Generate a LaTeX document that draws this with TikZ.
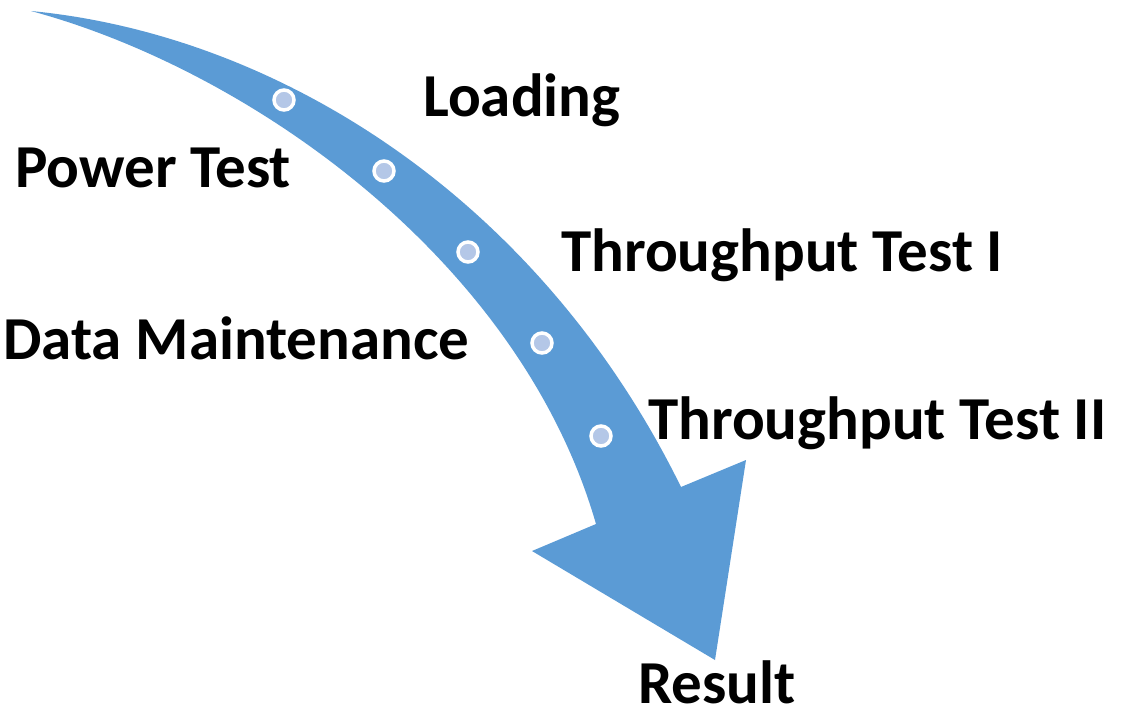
\documentclass[tikz,border=0pt]{standalone}
\usepackage{fontspec}
\setmainfont{Carlito}
\definecolor{arrowblue}{HTML}{5B9BD5}
\definecolor{dotblue}{HTML}{B4C7E7}
\begin{document}
\begin{tikzpicture}[x=1pt,y=-1pt,
  lbl/.style={anchor=base west,inner sep=0pt,font=\fontsize{61}{72}\selectfont\bfseries},
  stepdot/.style={circle,fill=dotblue,draw=white,line width=3.5pt,minimum size=20pt,inner sep=0pt}]
\useasboundingbox (0,0) rectangle (1138,710);
\fill[arrowblue] (31,11) .. controls (250,70) and (520,260) .. (596,524)
  -- (532,551) -- (715,660) -- (746,460) -- (681,487)
  .. controls (540,200) and (280,35) .. (31,11) -- cycle;
\node[stepdot] (d1) at (284,100) {};
\node[stepdot] (d2) at (384,171) {};
\node[stepdot] (d3) at (468,252) {};
\node[stepdot] (d4) at (542,343) {};
\node[stepdot] (d5) at (601,436) {};
\node[lbl] (loading) at (423,116) {Loading};
\node[lbl] (power) at (15,187) {Power Test};
\node[lbl] (tp1) at (561,271) {Throughput Test I};
\node[lbl] (dm) at (3,359) {Data Maintenance};
\node[lbl] (tp2) at (648,439) {Throughput Test II};
\node[lbl,text depth=0pt] (result) at (638,703) {Result};
\end{tikzpicture}
\end{document}
